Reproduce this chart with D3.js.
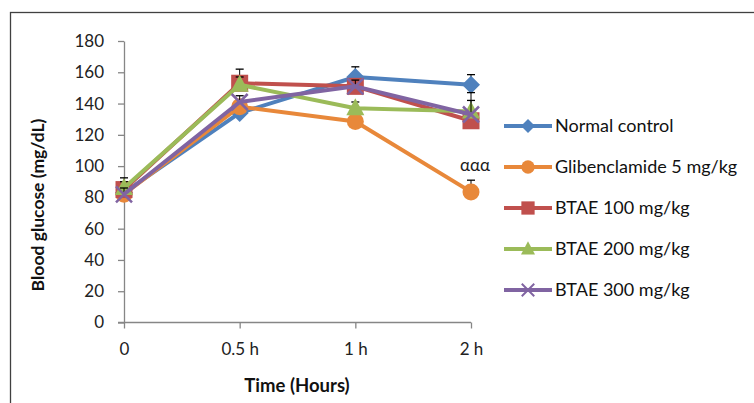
<!DOCTYPE html>
<html><head><meta charset="utf-8">
<script src="https://cdn.jsdelivr.net/npm/d3@7"></script>
<style>body{margin:0;background:#fff}svg{display:block}</style>
</head><body>
<svg id="c" width="754" height="403"></svg>
<script>
const categories = ["0", "0.5 h", "1 h", "2 h"];
const seriesNames = ["Normal control", "Glibenclamide 5 mg/kg", "BTAE 100 mg/kg", "BTAE 200 mg/kg", "BTAE 300 mg/kg"];
const normalControl = [83, 134, 157, 152];
const glibenclamide = [82, 138, 128.5, 83.5];
const btae100 = [85, 153, 151, 129];
const btae200 = [86, 152, 137, 135];
const btae300 = [82, 141, 151, 133];
const errNormal = [4, 5, 6.5, 6.5];
const errGlib = [4, 4, 4, 7.5];
const errB100 = [7.5, 9, 4, 4];
const errB200 = [4, 5, 4, 7];
const errB300 = [4, 4, 4, 14];
const yTicks = [0, 20, 40, 60, 80, 100, 120, 140, 160, 180];
const colors = ["#4F81BD", "#E8883A", "#C0504D", "#9BBB59", "#8064A2"];
const shapes = ["diamond", "circle", "square", "triangle", "x"];
const annotation = "ααα";

const values = [normalControl, glibenclamide, btae100, btae200, btae300];
const errs = [errNormal, errGlib, errB100, errB200, errB300];

const svg = d3.select("#c");
const font = "Lato, 'Open Sans', sans-serif";

svg.append("rect").attr("x", 10.5).attr("y", 12.5).attr("width", 760).attr("height", 400)
  .attr("fill", "none").attr("stroke", "#404040").attr("stroke-width", 1.3);

const x = d3.scalePoint().domain(categories).range([124, 471]);
const y = d3.scaleLinear().domain([0, 180]).range([322.5, 41]);

const g = svg.append("g");
const ya = g.append("g").attr("transform", "translate(124,0)")
  .call(d3.axisLeft(y).tickValues(yTicks).tickSize(6).tickSizeOuter(0).tickPadding(14));
ya.select(".domain").attr("stroke", "#868686").attr("stroke-width", 1.3);
ya.selectAll(".tick line").attr("stroke", "#868686").attr("stroke-width", 1.3);
ya.selectAll("text").attr("font-family", font).attr("font-size", 17).attr("fill", "#222");

const xa = g.append("g").attr("transform", "translate(0,322.5)")
  .call(d3.axisBottom(x).tickSize(6).tickSizeOuter(0).tickPadding(14));
xa.select(".domain").attr("stroke", "#868686").attr("stroke-width", 1.3).attr("d", "M118,0H471");
xa.selectAll(".tick line").attr("stroke", "#868686").attr("stroke-width", 1.3);
xa.selectAll("text").attr("font-family", font).attr("font-size", 17).attr("fill", "#222");

svg.append("text").attr("transform", "translate(44,205) rotate(-90)").attr("text-anchor", "middle")
  .attr("font-family", font).attr("font-weight", "bold").attr("font-size", 17.5).attr("fill", "#111")
  .text("Blood glucose (mg/dL)");
svg.append("text").attr("x", 297).attr("y", 392).attr("text-anchor", "middle")
  .attr("font-family", font).attr("font-weight", "bold").attr("font-size", 18.5).attr("fill", "#111")
  .text("Time (Hours)");

function marker(sel, shape, color, cx, cy) {
  if (shape === "diamond") {
    sel.append("path").attr("d", `M${cx},${cy-9}L${cx+9},${cy}L${cx},${cy+9}L${cx-9},${cy}Z`).attr("fill", color);
  } else if (shape === "circle") {
    sel.append("circle").attr("cx", cx).attr("cy", cy).attr("r", 8.5).attr("fill", color);
  } else if (shape === "square") {
    sel.append("rect").attr("x", cx-8.5).attr("y", cy-8.5).attr("width", 17).attr("height", 17).attr("fill", color);
  } else if (shape === "triangle") {
    sel.append("path").attr("d", `M${cx},${cy-10}L${cx+9},${cy+7}L${cx-9},${cy+7}Z`).attr("fill", color);
  } else if (shape === "x") {
    sel.append("path").attr("d", `M${cx-8},${cy-8}L${cx+8},${cy+8}M${cx-8},${cy+8}L${cx+8},${cy-8}`)
      .attr("stroke", color).attr("stroke-width", 2.5).attr("fill", "none");
  }
}

const line = d3.line().x((d, i) => x(categories[i])).y(d => y(d));

values.forEach((vals, s) => {
  const sg = svg.append("g");
  vals.forEach((v, i) => {
    const cx = x(categories[i]);
    const e = errs[s][i];
    sg.append("line").attr("x1", cx).attr("x2", cx).attr("y1", y(v)).attr("y2", y(v + e))
      .attr("stroke", "#000").attr("stroke-width", 1);
    sg.append("line").attr("x1", cx - 4).attr("x2", cx + 4)
      .attr("y1", y(v + e)).attr("y2", y(v + e)).attr("stroke", "#000").attr("stroke-width", 1.3);
  });
  sg.append("path").attr("d", line(vals)).attr("fill", "none").attr("stroke", colors[s])
    .attr("stroke-width", 4).attr("stroke-linejoin", "round");
  vals.forEach((v, i) => marker(sg, shapes[s], colors[s], x(categories[i]), y(v)));
});

svg.append("text").attr("x", 475).attr("y", 171).attr("text-anchor", "middle")
  .attr("font-family", font).attr("font-size", 17).attr("fill", "#222").text(annotation);

const legY = [126, 167, 208, 249, 290];
seriesNames.forEach((n, s) => {
  const lg = svg.append("g");
  lg.append("line").attr("x1", 504).attr("x2", 552).attr("y1", legY[s]).attr("y2", legY[s])
    .attr("stroke", colors[s]).attr("stroke-width", 4);
  const sc = svg.append("g").attr("transform", `translate(${528},${legY[s]}) scale(0.78) translate(-528,${-legY[s]})`);
  marker(sc, shapes[s], colors[s], 528, legY[s]);
  lg.append("text").attr("x", 555).attr("y", legY[s] + 6).attr("font-family", font).attr("font-size", 18)
    .attr("fill", "#111").text(n);
});
</script>
</body></html>
